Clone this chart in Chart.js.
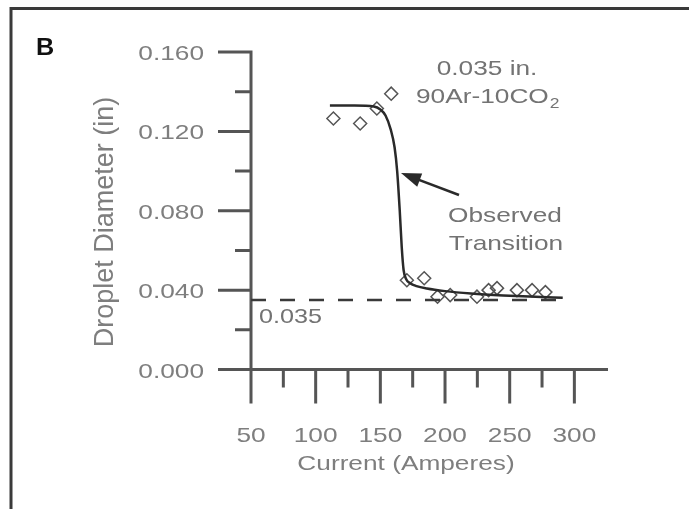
<!DOCTYPE html>
<html><head><meta charset="utf-8">
<script src="https://cdn.jsdelivr.net/npm/chart.js@4.4.1/dist/chart.umd.min.js"></script>
<style>html,body{margin:0;padding:0;background:#fff;overflow:hidden}canvas{display:block}</style>
</head><body>
<canvas id="c" width="689" height="509"></canvas>
<script>
// Observed droplet diameters (open diamonds)
const obsCurrent  = [113.7, 134.4, 147.3, 158.4, 170.5, 183.9, 194.2, 204.0, 224.7, 233.7, 240.2, 255.6, 267.3, 277.6];
const obsDiameter = [0.1265, 0.124, 0.1315, 0.139, 0.045, 0.046, 0.0367, 0.0375, 0.0367, 0.040, 0.041, 0.040, 0.040, 0.039];
// Fitted transition curve (solid line)
const fitCurrent  = [111, 130, 145, 150, 154, 158, 161, 163, 165, 166.5, 168, 170, 173, 178, 186, 200, 220, 245, 270, 291];
const fitDiameter = [0.133, 0.133, 0.1325, 0.131, 0.128, 0.121, 0.112, 0.100, 0.080, 0.062, 0.050, 0.0455, 0.0435, 0.042, 0.0408, 0.0395, 0.0383, 0.0373, 0.0366, 0.0362];
// Electrode diameter reference (dashed)
const refCurrent  = [50, 291];
const refDiameter = [0.035, 0.035];
// Axis ticks
const xMajor = [50, 100, 150, 200, 250, 300];
const xMinor = [75, 125, 175, 225, 275];
const yMajor = [0, 0.04, 0.08, 0.12, 0.16];
const yMajorLabels = ['0.000', '0.040', '0.080', '0.120', '0.160'];
const yMinor = [0.02, 0.06, 0.10, 0.14];

const pts = (xs, ys) => xs.map((x, i) => ({x, y: ys[i]}));
const FONT = '"Liberation Sans", Arial, sans-serif';

function txt(ctx, s, x, y, align, size, color, sx, bold) {
  ctx.save();
  ctx.font = (bold ? 'bold ' : '') + size + 'px ' + FONT;
  ctx.fillStyle = color;
  ctx.textBaseline = 'alphabetic';
  ctx.textAlign = align;
  ctx.translate(x, y);
  ctx.scale(sx, 1);
  ctx.fillText(s, 0, 0);
  const w = ctx.measureText(s).width * sx;
  ctx.restore();
  return w;
}

const axesPlugin = {
  id: 'customAxes',
  beforeDatasetsDraw(chart) {
    const ctx = chart.ctx, xs = chart.scales.x, ys = chart.scales.y;
    const x0 = xs.getPixelForValue(50), y0 = ys.getPixelForValue(0);
    const yTop = ys.getPixelForValue(0.16), xEnd = xs.right;
    ctx.save();
    ctx.strokeStyle = '#555'; ctx.lineWidth = 3; ctx.lineCap = 'butt';
    ctx.beginPath();
    ctx.moveTo(x0, yTop - 1.5); ctx.lineTo(x0, y0 + 34);
    ctx.moveTo(x0 - 33, y0); ctx.lineTo(xEnd, y0);
    yMajor.forEach(v => { const p = ys.getPixelForValue(v); ctx.moveTo(x0 - 33, p); ctx.lineTo(x0, p); });
    yMinor.forEach(v => { const p = ys.getPixelForValue(v); ctx.moveTo(x0 - 16, p); ctx.lineTo(x0, p); });
    xMajor.forEach(v => { const p = xs.getPixelForValue(v); ctx.moveTo(p, y0); ctx.lineTo(p, y0 + 34); });
    xMinor.forEach(v => { const p = xs.getPixelForValue(v); ctx.moveTo(p, y0); ctx.lineTo(p, y0 + 18); });
    ctx.stroke();
    ctx.restore();
    const lab = '#7e7e7e';
    yMajor.forEach((v, i) => txt(ctx, yMajorLabels[i], 204, ys.getPixelForValue(v) + 8, 'right', 21, lab, 1.25));
    xMajor.forEach(v => txt(ctx, String(v), xs.getPixelForValue(v), 442, 'center', 21, lab, 1.25));
    txt(ctx, 'Current (Amperes)', 406, 470, 'center', 21, lab, 1.25);
    ctx.save();
    ctx.translate(113, 222); ctx.rotate(-Math.PI / 2);
    ctx.font = '27px ' + FONT;
    ctx.fillStyle = lab; ctx.textAlign = 'center'; ctx.textBaseline = 'alphabetic';
    ctx.fillText('Droplet Diameter (in)', 0, 0);
    ctx.restore();
  },
  afterDatasetsDraw(chart) {
    const ctx = chart.ctx;
    const ann = '#737373';
    txt(ctx, '0.035', 259, 323, 'left', 21, ann, 1.2);
    txt(ctx, '0.035 in.', 487, 75, 'center', 21, ann, 1.25);
    const w = txt(ctx, '90Ar-10CO', 416, 103, 'left', 21, ann, 1.25);
    txt(ctx, '2', 416 + w + 1, 108, 'left', 14, ann, 1.25);
    txt(ctx, 'Observed', 505, 222, 'center', 21, ann, 1.25);
    txt(ctx, 'Transition', 506, 250, 'center', 21, ann, 1.25);
    // arrow
    ctx.save();
    ctx.strokeStyle = '#2a2a2a'; ctx.fillStyle = '#2a2a2a'; ctx.lineWidth = 2.5;
    const tx = 401, ty = 173, fx = 459, fy = 195;
    const a = Math.atan2(ty - fy, tx - fx);
    ctx.beginPath(); ctx.moveTo(fx, fy); ctx.lineTo(tx - 10 * Math.cos(a), ty - 10 * Math.sin(a)); ctx.stroke();
    ctx.beginPath();
    ctx.moveTo(tx, ty);
    ctx.lineTo(tx - 20 * Math.cos(a) + 7 * Math.sin(a), ty - 20 * Math.sin(a) - 7 * Math.cos(a));
    ctx.lineTo(tx - 20 * Math.cos(a) - 7 * Math.sin(a), ty - 20 * Math.sin(a) + 7 * Math.cos(a));
    ctx.closePath(); ctx.fill();
    ctx.restore();
    // panel letter and frame
    txt(ctx, 'B', 36, 55, 'left', 24, '#111', 1.05, true);
    ctx.save();
    ctx.strokeStyle = '#3a3a3a'; ctx.lineWidth = 3;
    ctx.beginPath(); ctx.moveTo(11, 509); ctx.lineTo(11, 8.5); ctx.lineTo(689, 8.5); ctx.stroke();
    ctx.restore();
  }
};

new Chart(document.getElementById('c'), {
  type: 'scatter',
  data: {
    datasets: [
      { type: 'line', data: pts(refCurrent, refDiameter), borderColor: '#3a3a3a', borderWidth: 2.5,
        borderDash: [15, 14], pointRadius: 0, fill: false },
      { type: 'line', data: pts(fitCurrent, fitDiameter), borderColor: '#2a2a2a', borderWidth: 2.5,
        cubicInterpolationMode: 'monotone', pointRadius: 0, fill: false },
      { type: 'scatter', data: pts(obsCurrent, obsDiameter), pointStyle: 'rectRot', pointRadius: 6.5,
        borderColor: '#555', borderWidth: 1.5, backgroundColor: 'rgba(255,255,255,0)' }
    ]
  },
  options: {
    responsive: false, animation: false, devicePixelRatio: 1,
    layout: { padding: { left: 251, right: 81, top: 52, bottom: 139.5 } },
    plugins: { legend: { display: false }, tooltip: { enabled: false } },
    scales: {
      x: { type: 'linear', min: 50, max: 326, display: false },
      y: { type: 'linear', min: 0, max: 0.16, display: false }
    }
  },
  plugins: [axesPlugin]
});
</script>
</body></html>
